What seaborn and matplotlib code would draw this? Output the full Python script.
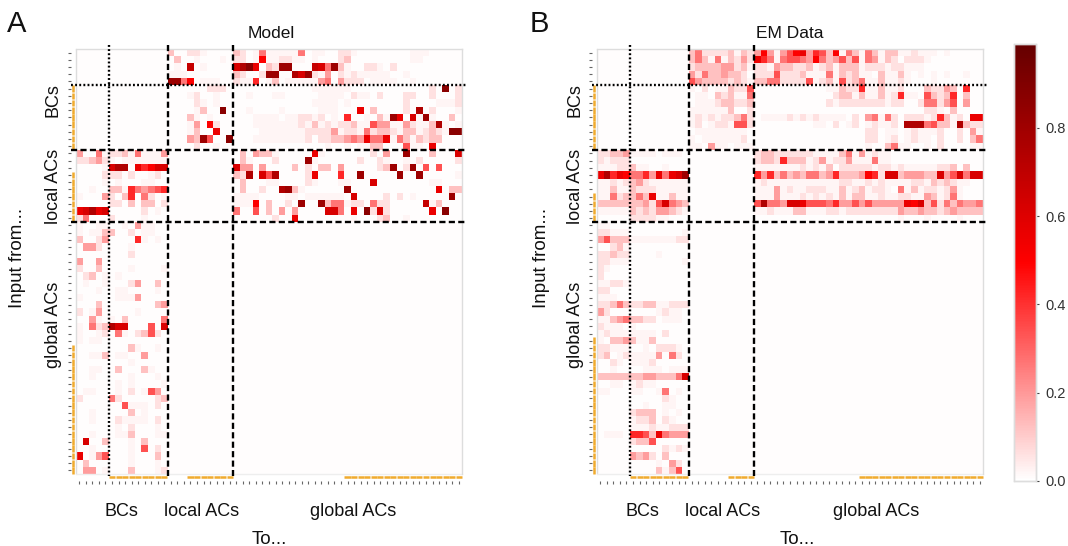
import numpy as np
import matplotlib
matplotlib.use("Agg")
import matplotlib.pyplot as plt
from matplotlib.colors import LinearSegmentedColormap
import seaborn as sns

# connection strengths, one hex digit per cell (see digit_levels)
# groups of five are only there to keep the columns readable
digit_levels = [0.007, 0.02, 0.06, 0.12, 0.19, 0.27, 0.34, 0.42, 0.5, 0.56, 0.62, 0.68, 0.75, 0.81, 0.87, 0.94]

model_bc_to_local = [
    "30022 10000", "03001 00010", "010b0 10000", "11100 00000", "dd580 11100",
    "00000 02220", "00012 00100", "00002 10100", "00001 300e0", "00031 01000",
    "00014 08200", "00013 00900", "00043 d600e", "00002 00100",
]
model_bc_to_global = [
    "32015 11111 50110 02210 00000 00111 00000",
    "22018 11221 10100 02300 00000 00110 00000",
    "ace90 32dd0 00ba5 d3100 22102 00000 00000",
    "32002 dd00c ad214 02121 11110 01000 00000",
    "21170 13011 11145 04222 01111 00100 00000",
    "00000 00000 00111 11100 00000 00000 20e02",
    "00100 01100 00011 11021 10200 02200 20002",
    "00000 00000 00111 10100 00000 02000 01112",
    "00100 00100 00011 10009 03000 020c0 20001",
    "00011 11011 22120 10700 1031d 90a1d 10030",
    "00011 11111 21312 12231 16441 14211 3c101",
    "00001 11111 12222 41221 52332 13312 321ee",
    "00011 11111 12022 33454 95591 53132 33000",
    "00000 00000 00001 00101 13300 06110 90000",
]
model_local_to_bc = [
    "40051 22315 1114", "22342 10111 1111", "00001 acc09 78aa", "00002 22020 0120",
    "00001 01000 1100", "00100 33175 4567", "10004 20370 5201", "00000 22030 3302",
    "9ac9a 00000 2010", "25000 20000 1000",
]
model_local_to_global = [
    "03043 31000 00910 00000 02040 0d000 3000a",
    "03100 02000 0d100 00002 00210 01020 00002",
    "a4404 00003 02033 04000 0023d 02d06 06000",
    "32c0a 6c000 02900 0700d 00000 d00d0 00001",
    "03000 11000 02100 01100 0a000 00000 11000",
    "03002 00cd3 10000 00d00 00000 00000 09033",
    "11110 00011 01111 110a0 00020 20100 000d0",
    "11180 30020 d00d3 55122 05220 0000b 13000",
    "50060 30404 0000a a5090 e2a20 00000 90e00",
    "00000 02009 00000 00010 00230 01000 00000",
]
model_global_to_bc = [
    "10011 00104 1100", "10113 30020 1100", "30024 00007 1010", "04420 00010 0000",
    "00000 00020 0000", "40040 00000 0000", "20030 00010 0001", "02301 01000 0000",
    "01001 00024 0030", "00010 01100 0010", "10000 01114 0000", "00030 00000 0034",
    "20140 00001 0000", "00410 10300 0005", "10523 caa00 060a", "10012 05102 3620",
    "10110 00000 0000", "00000 00031 0010", "00113 01100 4000", "00000 00010 0000",
    "00110 03000 3100", "00100 00010 0010", "00000 01010 0001", "01100 01020 1640",
    "20000 52000 0023", "00000 00611 1020", "00100 00030 1000", "00100 02111 1020",
    "00000 01020 0010", "00100 01130 0011", "0a003 00010 3000", "00100 00010 6020",
    "90146 00010 0030", "03000 00010 0010", "04401 00030 0012",
]

em_bc_to_local = [
    "35222 23132", "35315 13242", "23333 44231", "42533 43320", "64333 32321",
    "10201 13226", "01103 23115", "01112 33223", "11111 13002", "12121 22352",
    "12012 21662", "01111 11110", "10111 11120", "11041 10111",
]
em_bc_to_global = [
    "48414 68947 63815 31531 33112 11101 00000",
    "97515 66548 53463 61541 32022 21000 00000",
    "22143 32231 23133 31222 12211 10000 00000",
    "22262 22311 15132 31103 11310 10101 00100",
    "33552 22261 23162 35113 11210 00100 00000",
    "00000 00000 01132 27113 11200 03224 30700",
    "00000 00000 00233 13113 12711 06323 70300",
    "00000 00000 02122 22222 12200 25524 60400",
    "00000 00000 00000 00000 00000 02210 30000",
    "01111 21212 11110 20451 52022 21273 12099",
    "00000 00001 10201 20121 120cc c5633 1c322",
    "00000 00000 00000 00220 11012 11120 02041",
    "00000 00000 00000 00220 12012 11020 02035",
    "00000 00000 00000 00100 35110 01020 00011",
]
em_local_to_bc = [
    "22334 11110 1110", "21222 00000 0000", "11122 31100 1000", "9c798 55749 59ad",
    "11212 34211 1111", "11311 32221 1111", "11523 35391 1311", "33333 33426 a543",
    "11111 32324 4321", "00000 22221 1000",
]
em_local_to_global = [
    "23322 22221 11135 14121 10000 00000 00000",
    "23327 33312 41224 11151 10000 00000 00000",
    "11111 11212 13022 22212 21211 11122 30300",
    "74735 34355 34733 34872 aa344 433a4 6a5aa",
    "12111 11111 11122 11212 11112 21323 21100",
    "11141 21122 21131 23122 10513 12212 41000",
    "11141 11212 12131 33112 11221 14312 51000",
    "6c554 aa966 65744 64644 44498 a3625 35445",
    "11211 13311 12212 22222 22433 43323 43333",
    "00000 00000 00000 00000 00100 01000 01000",
]
em_global_to_bc = [
    "11000 00000 0000", "22111 00000 0001", "46333 11111 1122", "00231 00000 0000",
    "22322 00001 0000", "22111 00000 0001", "21000 00000 0000", "20000 00000 0000",
    "11221 00000 0000", "22000 00000 0000", "11100 00000 0000", "22353 22331 1222",
    "42000 00001 2110", "11345 33220 1110", "21110 10000 0000", "12111 11110 2000",
    "10334 31130 0000", "22111 00102 2210", "23012 11114 0520", "00210 11120 0000",
    "00100 00111 0111", "33333 33443 335a", "00110 12110 0000", "11000 11001 5010",
    "00000 00000 2100", "00000 00100 1100", "00000 23330 1010", "00000 12230 2100",
    "00000 11121 1222", "01110 77639 5444", "00000 23360 0000", "00000 00000 2121",
    "00000 43420 3000", "00000 00001 0420", "00000 00003 1360",
]

group_names = ["BCs", "local ACs", "global ACs"]
group_edges = [0, 14, 24, 59]
off_on_split = 5
# where the orange bars start, the bars run to the end of each group
model_marked = [5, 17, 41]
em_marked = [5, 20, 40]
vmax = 0.99


def decode(rows):
    return np.array([[digit_levels[int(c, 16)] for c in r.replace(" ", "")] for r in rows])


def build_matrix(bc_local, bc_global, local_bc, local_global, global_bc):
    m = np.full((59, 59), digit_levels[0])
    m[0:14, 14:24] = decode(bc_local)
    m[0:14, 24:59] = decode(bc_global)
    m[14:24, 0:14] = decode(local_bc)
    m[14:24, 24:59] = decode(local_global)
    m[24:59, 0:14] = decode(global_bc)
    return m


sns.set_style("white")
plt.rcParams["font.family"] = ["Liberation Sans", "DejaVu Sans"]

W, H = 1068, 546
fig = plt.figure(figsize=(W / 100, H / 100), dpi=100)
cmap = LinearSegmentedColormap.from_list("wr", ["#ffffff", "#ff0000", "#650000"])


def px_axes(left, right, top, bottom):
    return fig.add_axes([left / W, 1 - bottom / H, (right - left) / W, (bottom - top) / H])


def label(x, y, text, size=13, rotation=0):
    fig.text(x / W, 1 - y / H, text, fontsize=size, rotation=rotation, ha="center", va="center", color="#111111")


def draw_panel(ax, data, marked, cbar_ax=None):
    sns.heatmap(data, ax=ax, cmap=cmap, vmin=0, vmax=vmax, cbar=cbar_ax is not None, cbar_ax=cbar_ax,
                xticklabels=False, yticklabels=False, square=False)
    ax.set_xticks(np.arange(59) + 0.5)
    ax.set_yticks(np.arange(59) + 0.5)
    ax.tick_params(axis="both", length=2.2, width=0.8, color="#666666", left=True, bottom=True)
    for s in ax.spines.values():
        s.set_visible(True)
        s.set_color("#dddddd")
        s.set_linewidth(1)
    # ticks sit away from the heatmap, so the frame on these sides is drawn by hand
    ax.spines["left"].set_position(("outward", 3.6))
    ax.spines["bottom"].set_position(("outward", 4.8))
    ax.spines["left"].set_visible(False)
    ax.spines["bottom"].set_visible(False)
    ax.axvline(0, color="#dddddd", lw=1, clip_on=False)
    ax.axhline(59, color="#eeeeee", lw=1, clip_on=False)

    dotted = dict(color="black", lw=1.7, dashes=(0.8, 0.95), clip_on=False, zorder=5)
    dashed = dict(color="black", lw=1.7, dashes=(2.6, 1.4), clip_on=False, zorder=5)
    ax.plot([off_on_split, off_on_split], [-0.5, 59.3], **dotted)
    ax.plot([-0.7, 59.6], [off_on_split, off_on_split], **dotted)
    for e in group_edges[1:3]:
        ax.plot([e, e], [-0.5, 59.3], **dashed)
        ax.plot([-0.7, 59.6], [e, e], **dashed)

    # orange bars, one short piece per cell
    xt = ax.get_yaxis_transform()  # x in axes, y in data
    yt = ax.get_xaxis_transform()  # x in data, y in axes
    for start, end in zip(marked, group_edges[1:]):
        cells = np.arange(start, end)
        ax.vlines([-0.009] * len(cells), cells + 0.04, cells + 0.96, transform=xt, color="#f0ab2e",
                  lw=1.8, clip_on=False)
        ax.hlines([-0.0075] * len(cells), cells + 0.04, cells + 0.96, transform=yt, color="#f0ab2e",
                  lw=1.8, clip_on=False)


model = build_matrix(model_bc_to_local, model_bc_to_global, model_local_to_bc, model_local_to_global, model_global_to_bc)
em = build_matrix(em_bc_to_local, em_bc_to_global, em_local_to_bc, em_local_to_global, em_global_to_bc)

ax_a = px_axes(76, 462, 49, 474)
ax_b = px_axes(597, 983, 49, 474)
cax = px_axes(1014, 1036, 44, 481)

draw_panel(ax_a, model, model_marked)
draw_panel(ax_b, em, em_marked, cbar_ax=cax)

cax.set_yticks([0, 0.2, 0.4, 0.6, 0.8])
cax.set_yticklabels(["0.0", "0.2", "0.4", "0.6", "0.8"])
cax.tick_params(axis="y", length=2.5, width=0.8, color="#444444", labelsize=10.5, labelcolor="#333333", pad=4, right=True)
for s in cax.spines.values():
    s.set_visible(True)
    s.set_color("#dddddd")
    s.set_linewidth(1)

label(17, 24, "A", size=21)
label(539, 24, "B", size=21)
label(271, 33, "Model", size=12.5)
label(790, 33, "EM Data", size=12.5)

label(18, 258, "Input from...", size=13.5, rotation=90)
label(542, 258, "Input from...", size=13.5, rotation=90)
label(269, 539, "To...", size=13.5)
label(797, 539, "To...", size=13.5)

for y, name in zip([100, 186, 325], group_names):
    label(53, y, name, rotation=90)
    label(575, y, name, rotation=90)
for x, name in zip([121, 202, 353], group_names):
    label(x, 511, name)
for x, name in zip([642, 723, 876], group_names):
    label(x, 511, name)

fig.savefig("out.png", dpi=100)
plt.close(fig)
